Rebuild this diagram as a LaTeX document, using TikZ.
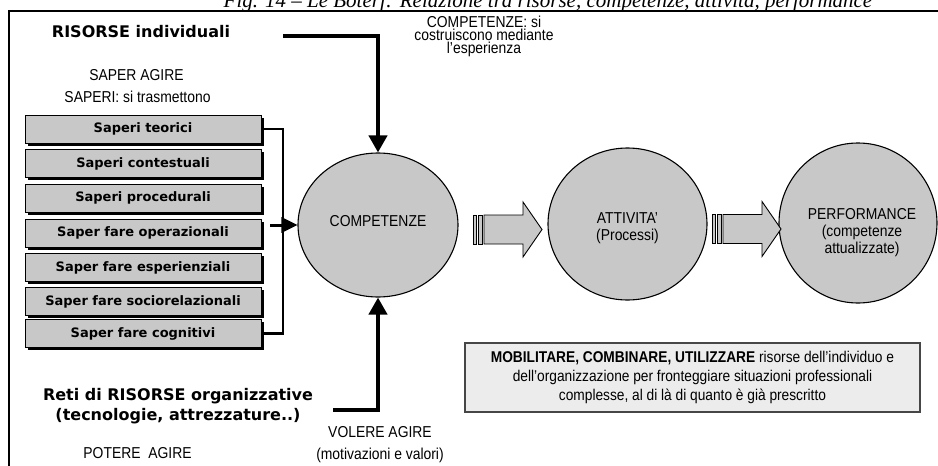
\documentclass[tikz,border=0pt]{standalone}
\usepackage{fontspec}
\setmainfont{Liberation Serif}
\setsansfont{Liberation Sans}
\newfontfamily\narrowsans[FakeStretch=0.88]{Liberation Sans}
\newfontfamily\verd{DejaVu Sans}
\usetikzlibrary{arrows.meta,shapes.geometric}
\definecolor{discfill}{RGB}{200,200,200}
\definecolor{notefill}{RGB}{236,236,236}
\definecolor{noteline}{RGB}{70,70,70}
\begin{document}
\begin{tikzpicture}[x=1pt,y=-1pt,
  lbl/.style={font=\narrowsans\fontsize{15.8}{18}\selectfont, inner sep=0pt, anchor=base},
  heading/.style={font=\verd\bfseries\fontsize{16}{19}\selectfont, inner sep=0pt, anchor=base, align=center},
  knowbox/.style={draw=black, line width=1pt, fill=discfill, minimum width=236pt,
    minimum height=28pt, inner sep=0pt, font=\verd\bfseries\fontsize{13}{15}\selectfont},
  shadowbox/.style={fill=black, draw=none, minimum width=236pt, minimum height=28pt, inner sep=0pt},
  disc/.style={ellipse, draw=black, line width=1.1pt, fill=discfill, inner sep=0pt},
  disctext/.style={font=\narrowsans\fontsize{15.8}{17}\selectfont, inner sep=0pt, anchor=base, align=center},
  feed/.style={line width=4pt, -{Triangle[length=17pt,width=18pt]}},
  merge/.style={line width=3pt, -{Triangle[length=16pt,width=15pt]}},
  bracket/.style={line width=2.5pt},
  note/.style={draw=noteline, line width=1.5pt, fill=notefill, minimum width=455pt,
    minimum height=69pt, inner sep=0pt, align=center, font=\narrowsans\fontsize{15.6}{19}\selectfont},
  pics/stripedarrow/.style={code={
    \filldraw[fill=discfill, draw=black, line width=0.9pt]
      (11,-14.5) -- (50,-14.5) -- (50,-27.5) -- (69,0) -- (50,27.5) -- (50,14.5) -- (11,14.5) -- cycle;
    \filldraw[fill=discfill, draw=black, line width=0.9pt] (0,-14.5) rectangle (3,14.5);
    \filldraw[fill=discfill, draw=black, line width=0.9pt] (5,-14.5) rectangle (9,14.5);
  }}
]
\useasboundingbox (0,0) rectangle (938,466);
\clip (0,0) rectangle (938,466);

% caption, partly above the frame
\node[font=\itshape\fontsize{21}{25}\selectfont, anchor=base, inner sep=0pt] (title) at (548,7)
  {Fig. 14 – Le Boterf: Relazione tra risorse, competenze, attività, performance};

% frame
\draw[line width=2pt] (938,10.5) -- (8.5,10.5) -- (8.5,466);

% individual resources
\node[heading] (risind) at (141,37) {RISORSE individuali};
\node[lbl] (saperagire) at (136.5,80) {SAPER AGIRE};
\node[lbl] (saperi) at (137.5,102) {SAPERI: si trasmettono};

% knowledge boxes
\foreach \n/\y/\t in {1/129/Saperi teorici, 2/163.5/Saperi contestuali, 3/198/Saperi procedurali,
    4/233/Saper fare operazionali, 5/267.5/Saper fare esperienziali,
    6/301.5/Saper fare sociorelazionali, 7/333.5/Saper fare cognitivi}{
  \node[shadowbox] (s\n) at (145.5,\y+2.5) {};
  \node[knowbox] (k\n) at (143,\y) {\t};
}

% the three stages (multi-line labels are placed by their last baseline)
\node[disc, minimum width=160pt, minimum height=144pt] (comp) at (378,225) {};
\node[disctext] (compT) at (378,226) {COMPETENZE};
\node[disc, minimum width=159pt, minimum height=152pt] (att) at (627.5,224) {};
\node[disctext] (attT) at (627.5,240) {ATTIVITA’\\(Processi)};
\node[disc, minimum width=158pt, minimum height=160pt] (perf) at (858,223) {};
\node[disctext] (perfT) at (862,253) {PERFORMANCE\\(competenze\\attualizzate)};

\pic at (473,229.5) {stripedarrow};
\pic at (712,229) {stripedarrow};

% experience note
\node[font=\narrowsans\fontsize{15.8}{13}\selectfont, inner sep=0pt, anchor=base, align=center] (espT) at (484,53)
  {COMPETENZE: si\\costruiscono mediante\\l’esperienza};

% knowledge bracket feeding the competences
\coordinate (bx) at (283,0);
\draw[bracket] (k1.east) -- (k1.east -| bx) -- (k7.east -| bx) -- (k7.east);
\coordinate (mergeIn) at (270,225);
\draw[merge] (mergeIn) -- (comp.west);

% resources from above and below
\coordinate (risIn) at (283,36);
\draw[feed] (risIn) -| (comp.north);
\coordinate (retIn) at (333,410);
\draw[feed] (retIn) -| (comp.south);

% organisational resources
\node[heading, font=\verd\bfseries\fontsize{16}{19.5}\selectfont] (reti) at (178,420)
  {Reti di RISORSE organizzative\\(tecnologie, attrezzature..)};
\node[lbl] (potere) at (137.5,458) {POTERE\ \ AGIRE};
\node[lbl, align=center, font=\narrowsans\fontsize{15.8}{22}\selectfont] (volere) at (380,459)
  {VOLERE AGIRE\\(motivazioni e valori)};

% summary box
\node[note] (mob) at (692.5,377.5)
  {\textbf{MOBILITARE, COMBINARE, UTILIZZARE} risorse dell’individuo e\\
   dell’organizzazione per fronteggiare situazioni professionali\\
   complesse, al di là di quanto è già prescritto};
\end{tikzpicture}
\end{document}
